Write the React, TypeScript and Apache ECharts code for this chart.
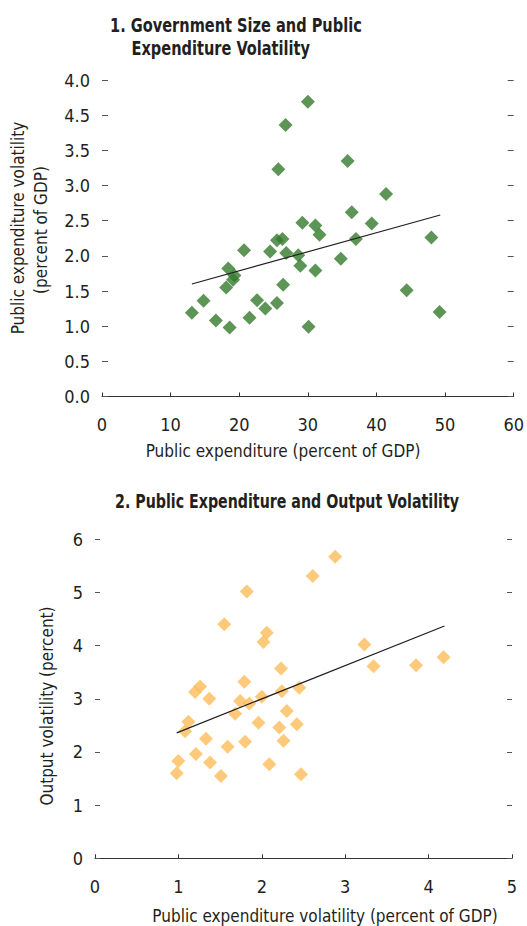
import React, { useEffect, useRef } from "react";
import * as echarts from "echarts";

// Panel 1: Government size vs public expenditure volatility
const topX = [30.0, 26.75, 25.7, 35.8, 41.4, 36.4, 39.3, 48.0, 29.2, 31.1, 31.7, 37.0, 25.5, 26.3, 20.7, 24.5, 26.85, 28.6, 34.8, 28.9, 31.1, 18.4, 19.3, 19.1, 18.1, 26.4, 14.8, 13.1, 16.6, 18.6, 22.6, 23.8, 25.5, 21.5, 30.1, 44.4, 49.2];
const topY = [4.19, 3.86, 3.23, 3.35, 2.88, 2.62, 2.46, 2.26, 2.47, 2.43, 2.30, 2.24, 2.22, 2.24, 2.08, 2.06, 2.04, 2.01, 1.96, 1.86, 1.79, 1.82, 1.72, 1.66, 1.55, 1.59, 1.36, 1.19, 1.08, 0.98, 1.37, 1.25, 1.33, 1.12, 0.99, 1.51, 1.20];
const topTrendX = [13.1, 49.3];
const topTrendY = [1.6, 2.58];
const topYLabels = ["0.0", "0.5", "1.0", "1.5", "2.0", "2.5", "3.0", "3.5", "4.5", "4.0"];
const topXLabels = ["0", "10", "20", "30", "40", "50", "60"];

// Panel 2: Public expenditure volatility vs output volatility
const botX = [2.88, 2.61, 1.82, 1.55, 2.06, 2.02, 3.23, 3.34, 3.85, 4.18, 2.23, 1.79, 1.26, 1.20, 1.37, 2.24, 2.45, 2.00, 1.74, 1.85, 2.30, 1.68, 1.96, 2.21, 2.42, 1.12, 1.08, 1.33, 1.80, 2.26, 1.59, 1.21, 1.00, 1.38, 2.09, 0.98, 1.51, 2.47];
const botY = [5.67, 5.31, 5.02, 4.40, 4.24, 4.07, 4.02, 3.61, 3.63, 3.78, 3.57, 3.32, 3.23, 3.13, 3.00, 3.14, 3.21, 3.04, 2.96, 2.91, 2.77, 2.72, 2.55, 2.46, 2.52, 2.57, 2.39, 2.25, 2.19, 2.21, 2.10, 1.96, 1.83, 1.80, 1.77, 1.60, 1.55, 1.58];
const botTrendX = [0.98, 4.19];
const botTrendY = [2.36, 4.37];
const botYLabels = ["0", "1", "2", "3", "4", "5", "6"];
const botXLabels = ["0", "1", "2", "3", "4", "5"];

const FONT = '"Liberation Sans Narrow", "DejaVu Sans Condensed", "Roboto", sans-serif';
const TXT = "#231f20";
const TICK = "#555555";

export default function App() {
  const ref = useRef<HTMLDivElement>(null);
  useEffect(() => {
    if (!ref.current) return;
    const chart = echarts.init(ref.current, null, { renderer: "svg" });
    const zip = (xs: number[], ys: number[]) => xs.map((x, i) => [x, ys[i]]);
    const labelStyle = { color: TXT, fontFamily: FONT, fontSize: 18 };
    const yBase = (min: number, max: number, interval: number, labels: string[] | null, gridIndex: number, position: "left" | "right", tickLen: number) => ({
      type: "value" as const,
      gridIndex,
      position,
      min,
      max,
      interval,
      splitLine: { show: false },
      axisLine: { show: false },
      axisTick: { show: true, inside: true, length: tickLen, lineStyle: { color: TICK, width: 1 } },
      axisLabel: labels
        ? { show: true, margin: 12, padding: [6, 0, 0, 0], ...labelStyle, formatter: (v: number) => labels[Math.round((v - min) / interval)] }
        : { show: false },
    });
    const xBase = (min: number, max: number, interval: number, labels: string[], gridIndex: number) => ({
      type: "value" as const,
      gridIndex,
      min,
      max,
      interval,
      splitLine: { show: false },
      axisLine: { show: true, onZero: false, lineStyle: { color: "#333333", width: 1 } },
      axisTick: { show: true, inside: true, length: 4, lineStyle: { color: "#333333", width: 1 } },
      axisLabel: { margin: 19, ...labelStyle, formatter: (v: number) => labels[Math.round((v - min) / interval)] },
    });
    const titleStyle = { font: `bold 20px ${FONT}`, fill: TXT, textAlign: "left", textVerticalAlign: "middle" };
    const nameStyle = { font: `17px ${FONT}`, fill: TXT, textAlign: "center", textVerticalAlign: "middle" };
    chart.setOption({
      animation: false,
      grid: [
        { left: 102, right: 13, top: 80, height: 316.5 },
        { left: 95, right: 15, top: 539.3, height: 319 },
      ],
      xAxis: [xBase(0, 60, 10, topXLabels, 0), xBase(0, 5, 1, botXLabels, 1)],
      yAxis: [
        yBase(0, 4.5, 0.5, topYLabels, 0, "left", 6),
        yBase(0, 4.5, 0.5, null, 0, "right", 6),
        yBase(0, 6, 1, botYLabels, 1, "left", 5),
        yBase(0, 6, 1, null, 1, "right", 5),
      ],
      series: [
        {
          type: "scatter",
          xAxisIndex: 0,
          yAxisIndex: 0,
          symbol: "diamond",
          symbolSize: 14,
          itemStyle: { color: "#347a2d" },
          data: zip(topX, topY),
        },
        {
          type: "line",
          xAxisIndex: 0,
          yAxisIndex: 0,
          symbol: "none",
          lineStyle: { color: "#231f20", width: 1.2 },
          data: zip(topTrendX, topTrendY),
        },
        {
          type: "scatter",
          xAxisIndex: 1,
          yAxisIndex: 2,
          symbol: "diamond",
          symbolSize: 14,
          itemStyle: { color: "#fdbd5a" },
          data: zip(botX, botY),
        },
        {
          type: "line",
          xAxisIndex: 1,
          yAxisIndex: 2,
          symbol: "none",
          lineStyle: { color: "#231f20", width: 1.2 },
          data: zip(botTrendX, botTrendY),
        },
      ],
      graphic: [
        { type: "text", x: 110, y: 25, scaleX: 0.81, style: { text: "1. Government Size and Public", ...titleStyle } },
        { type: "text", x: 131.5, y: 48, scaleX: 0.81, style: { text: "Expenditure Volatility", ...titleStyle } },
        { type: "text", x: 115, y: 501, scaleX: 0.79, style: { text: "2. Public Expenditure and Output Volatility", ...titleStyle } },
        { type: "text", x: 18, y: 228, rotation: Math.PI / 2, style: { text: "Public expenditure volatility", ...nameStyle } },
        { type: "text", x: 41, y: 230, rotation: Math.PI / 2, style: { text: "(percent of GDP)", ...nameStyle } },
        { type: "text", x: 47, y: 706, rotation: Math.PI / 2, style: { text: "Output volatility (percent)", ...nameStyle } },
        { type: "text", x: 283, y: 451, style: { text: "Public expenditure (percent of GDP)", ...nameStyle } },
        { type: "text", x: 325, y: 916, style: { text: "Public expenditure volatility (percent of GDP)", ...nameStyle } },
      ],
    });
    return () => chart.dispose();
  }, []);
  return <div ref={ref} style={{ position: "fixed", left: 0, top: 0, width: 527, height: 926, background: "#ffffff" }} />;
}
